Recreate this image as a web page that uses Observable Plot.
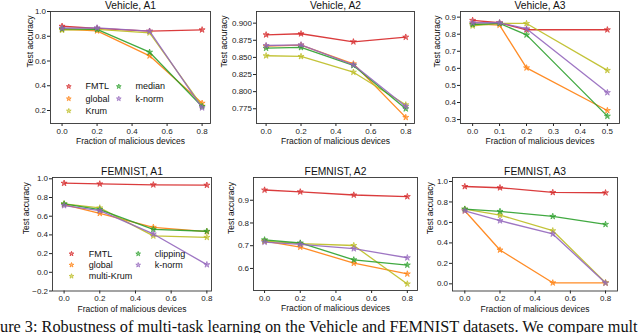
<!DOCTYPE html>
<html><head><meta charset="utf-8">
<script src="https://cdn.jsdelivr.net/npm/d3@7"></script>
<script src="https://cdn.jsdelivr.net/npm/@observablehq/plot@0.6"></script>
<style>
body{margin:0;background:#fff;}
#wrap{position:relative;width:640px;height:333px;overflow:hidden;background:#fff;}
#wrap svg{position:absolute;left:0;top:0;}
#caption{position:absolute;left:0;top:319px;font-family:"Liberation Serif","Times New Roman",serif;font-size:16.3px;line-height:16.3px;white-space:nowrap;color:#111;}
</style></head><body>
<div id="wrap"><div id="caption">ure 3: Robustness of multi-task learning on the Vehicle and FEMNIST datasets. We compare mult</div></div>
<script>
// ---- data ----
const seriesVehicle = ["FMTL", "global", "Krum", "median", "k-norm"];
const seriesFemnist = ["FMTL", "global", "multi-Krum", "clipping", "k-norm"];
const colors = ["#d62728", "#ff7f0e", "#bcbd22", "#2ca02c", "#9467bd"];
const fracMain = [0, 0.2, 0.5, 0.8];
const fracVehicleA3 = [0, 0.1, 0.2, 0.5];
const ticks08 = [0, 0.2, 0.4, 0.6, 0.8];
const ticks05 = [0, 0.1, 0.2, 0.3, 0.4, 0.5];

const vehicleA1 = [
  [0.881, 0.863, 0.841, 0.852],
  [0.857, 0.844, 0.642, 0.259],
  [0.849, 0.855, 0.828, 0.235],
  [0.860, 0.855, 0.671, 0.232],
  [0.865, 0.868, 0.841, 0.222]
];
const vehicleA2 = [
  [0.883, 0.8845, 0.8728, 0.8796],
  [0.8664, 0.8679, 0.8407, 0.7624],
  [0.8524, 0.8514, 0.8284, 0.7808],
  [0.8635, 0.8645, 0.8382, 0.775],
  [0.8674, 0.8684, 0.8392, 0.7784]
];
const vehicleA3 = [
  [0.881, 0.867, 0.826, 0.826],
  [0.861, 0.853, 0.603, 0.353],
  [0.849, 0.863, 0.863, 0.588],
  [0.857, 0.863, 0.796, 0.320],
  [0.867, 0.867, 0.832, 0.458]
];
const femnistA1 = [
  [0.953, 0.946, 0.936, 0.932],
  [0.725, 0.631, 0.481, 0.435],
  [0.732, 0.689, 0.389, 0.374],
  [0.732, 0.671, 0.460, 0.439],
  [0.714, 0.660, 0.410, 0.082]
];
const femnistA2 = [
  [0.945, 0.937, 0.923, 0.916],
  [0.720, 0.694, 0.623, 0.576],
  [0.720, 0.709, 0.701, 0.532],
  [0.726, 0.712, 0.638, 0.615],
  [0.716, 0.706, 0.687, 0.647]
];
const femnistA3 = [
  [0.951, 0.939, 0.893, 0.890],
  [0.714, 0.331, 0.010, 0.010],
  [0.730, 0.672, 0.519, 0.010],
  [0.730, 0.708, 0.659, 0.581],
  [0.714, 0.617, 0.487, 0.008]
];

const yTicksVA1 = [0.2, 0.4, 0.6, 0.8, 1.0];
const yTicksVA2 = [0.775, 0.8, 0.825, 0.85, 0.875, 0.9];
const yTicksVA3 = [0.3, 0.4, 0.5, 0.6, 0.7, 0.8, 0.9];
const yTicksFA1 = [-0.2, 0, 0.2, 0.4, 0.6, 0.8, 1.0];
const yTicksFA2 = [0.6, 0.7, 0.8, 0.9];
const yTicksFA3 = [0, 0.2, 0.4, 0.6, 0.8, 1.0];

const FONT = "'Liberation Sans', Arial, Helvetica, sans-serif";
const W = 640, H = 333;

function panel(o) {
  const [L, T, R, B] = o.frame;
  const rows = o.series.flatMap((s, i) => o.xs.map((x, j) => ({series: s, x, y: o.values[i][j]})));
  const marks = [
    Plot.axisX({ticks: o.xTicks, tickFormat: d3.format(".1f"), tickSize: 3, tickPadding: 1.5, fontSize: 8, label: null}),
    Plot.axisY({ticks: o.yTicks, tickFormat: d3.format(o.yFmt), tickSize: 3, tickPadding: 1.5, fontSize: 8, label: null})
  ];
  o.series.forEach((s, i) => {
    const d = rows.filter(r => r.series === s);
    marks.push(Plot.line(d, {x: "x", y: "y", stroke: colors[i], strokeWidth: 1.3, strokeOpacity: 0.9}));
    marks.push(Plot.dot(d, {x: "x", y: "y", symbol: "star", r: 1.9, fill: colors[i], fillOpacity: 0.5, stroke: colors[i], strokeOpacity: 0.85, strokeWidth: 0.8}));
  });
  marks.push(Plot.frame({stroke: "#333", strokeWidth: 0.9}));
  marks.push(Plot.text([o.title], {text: d => d, frameAnchor: "top", dy: o.titleDy, fontSize: 10.3, lineAnchor: "middle", fill: "#111"}));
  marks.push(Plot.text(["Fraction of malicious devices"], {text: d => d, frameAnchor: "bottom", dy: o.xlabelDy, fontSize: 8.5, lineAnchor: "middle", fill: "#111"}));
  marks.push(Plot.text(["Test accuracy"], {text: d => d, frameAnchor: "left", dx: o.ylabelDx, rotate: -90, fontSize: 8.5, lineAnchor: "middle", fill: "#111"}));
  if (o.legend) {
    const g = o.legend;
    o.series.forEach((s, i) => {
      const col = Math.floor(i / 3), row = i % 3;
      marks.push(Plot.dot([s], {frameAnchor: "top-left", dx: g.starDx[col], dy: g.dy0 + row * g.rowDy, symbol: "star", r: 1.5, fill: colors[i], fillOpacity: 0.5, stroke: colors[i], strokeOpacity: 0.85, strokeWidth: 0.8}));
      marks.push(Plot.text([s], {text: d => d, frameAnchor: "top-left", dx: g.textDx[col], dy: g.dy0 + row * g.rowDy, textAnchor: "start", lineAnchor: "middle", fontSize: 9, fill: "#111"}));
    });
  }
  const svg = Plot.plot({
    width: W, height: H,
    marginLeft: L, marginTop: T, marginRight: W - R, marginBottom: H - B,
    x: {domain: o.xDomain},
    y: {domain: o.yDomain},
    style: {background: "transparent", overflow: "visible", fontFamily: FONT, color: "#222", maxWidth: "none"},
    marks
  });
  document.getElementById("wrap").appendChild(svg);
}

panel({title: "Vehicle, A1", series: seriesVehicle, xs: fracMain, values: vehicleA1,
  xDomain: [-0.066, 0.848], yDomain: [0.095, 1.0], xTicks: ticks08, yTicks: yTicksVA1, yFmt: ".1f",
  frame: [50, 11, 210, 123], ylabelDx: -20, titleDy: -5.8, xlabelDy: 17.3,
  legend: {starDx: [18.3, 68.3], textDx: [35, 85], dy0: 75, rowDy: 12.2}});
panel({title: "Vehicle, A2", series: seriesVehicle, xs: fracMain, values: vehicleA2,
  xDomain: [-0.055, 0.85], yDomain: [0.7535, 0.917], xTicks: ticks08, yTicks: yTicksVA2, yFmt: ".3f",
  frame: [256, 11, 414, 123], ylabelDx: -32.5, titleDy: -5.8, xlabelDy: 17.3});
panel({title: "Vehicle, A3", series: seriesVehicle, xs: fracVehicleA3, values: vehicleA3,
  xDomain: [-0.045, 0.545], yDomain: [0.277, 0.933], xTicks: ticks05, yTicks: yTicksVA3, yFmt: ".1f",
  frame: [460, 11, 619, 123], ylabelDx: -23.5, titleDy: -5.8, xlabelDy: 17.3});
panel({title: "FEMNIST, A1", series: seriesFemnist, xs: fracMain, values: femnistA1,
  xDomain: [-0.065, 0.826], yDomain: [-0.2, 1.014], xTicks: ticks08, yTicks: yTicksFA1, yFmt: ".1f",
  frame: [52, 177, 211, 290.5], ylabelDx: -26, titleDy: -6, xlabelDy: 17.8,
  legend: {starDx: [19, 85.7], textDx: [36.3, 102.3], dy0: 76.3, rowDy: 11.2}});
panel({title: "FEMNIST, A2", series: seriesFemnist, xs: fracMain, values: femnistA2,
  xDomain: [-0.062, 0.857], yDomain: [0.503, 1.0], xTicks: ticks08, yTicks: yTicksFA2, yFmt: ".1f",
  frame: [253, 177, 417, 290], ylabelDx: -22.5, titleDy: -6, xlabelDy: 17.8});
panel({title: "FEMNIST, A3", series: seriesFemnist, xs: fracMain, values: femnistA3,
  xDomain: [-0.07, 0.868], yDomain: [-0.07, 1.039], xTicks: ticks08, yTicks: yTicksFA3, yFmt: ".1f",
  frame: [452, 177, 617, 290.5], ylabelDx: -22, titleDy: -6, xlabelDy: 17.8});
</script>
</body></html>
